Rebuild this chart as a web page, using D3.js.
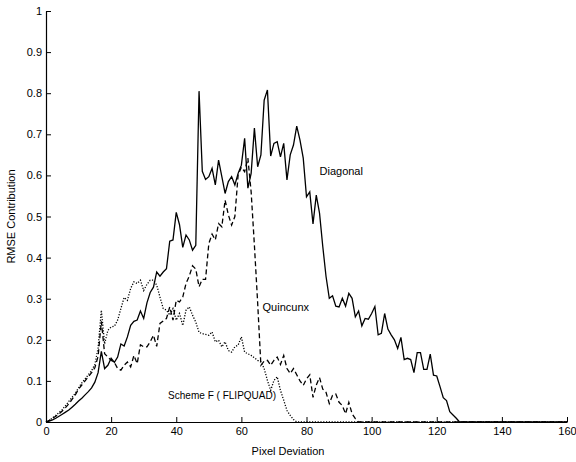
<!DOCTYPE html>
<html>
<head>
<meta charset="utf-8">
<script src="https://cdn.jsdelivr.net/npm/d3@7"></script>
<style>
  body { margin: 0; background: #fff; }
  text { font-family: "Liberation Sans", Arial, sans-serif; }
</style>
</head>
<body>
<div id="vis"></div>
<script>
// Frame
const FRAME_WIDTH = 576;
const FRAME_HEIGHT = 462;
const MARGINS = {left: 46, right: 9, top: 11, bottom: 40};
const VIS_WIDTH = FRAME_WIDTH - MARGINS.left - MARGINS.right;
const VIS_HEIGHT = FRAME_HEIGHT - MARGINS.top - MARGINS.bottom;

// Data: values at pixel deviation 0, 1, 2, ... ; each curve stays at 0 up to X_END
const X_END = 160;
const X_TICKS = [0, 20, 40, 60, 80, 100, 120, 140, 160];
const Y_TICKS = [0, 0.1, 0.2, 0.3, 0.4, 0.5, 0.6, 0.7, 0.8, 0.9, 1];

const DIAGONAL = [0, 0.002, 0.005, 0.009, 0.014, 0.019, 0.024, 0.029, 0.036, 0.043,
  0.051, 0.058, 0.066, 0.074, 0.083, 0.097, 0.12, 0.172, 0.13, 0.138,
  0.155, 0.145, 0.158, 0.19, 0.185, 0.207, 0.235, 0.245, 0.248, 0.27,
  0.252, 0.29, 0.315, 0.328, 0.365, 0.355, 0.365, 0.373, 0.44, 0.443,
  0.51, 0.48, 0.425, 0.455, 0.443, 0.418, 0.43, 0.805, 0.61, 0.59,
  0.597, 0.617, 0.577, 0.637, 0.597, 0.556, 0.585, 0.597, 0.577, 0.605,
  0.625, 0.69, 0.569, 0.605, 0.715, 0.621, 0.65, 0.783, 0.808, 0.647,
  0.678, 0.682, 0.645, 0.678, 0.589, 0.65, 0.674, 0.72, 0.686, 0.642,
  0.548, 0.56, 0.482, 0.552, 0.508, 0.427, 0.354, 0.301, 0.307, 0.282,
  0.28, 0.301, 0.282, 0.313, 0.301, 0.256, 0.27, 0.234, 0.252, 0.25,
  0.264, 0.281, 0.212, 0.216, 0.264, 0.226, 0.212, 0.2, 0.179, 0.206,
  0.152, 0.155, 0.152, 0.12, 0.169, 0.169, 0.128, 0.128, 0.165, 0.114,
  0.112, 0.086, 0.059, 0.052, 0.025, 0.017, 0.009, 0];

const QUINCUNX = [0, 0.004, 0.009, 0.014, 0.02, 0.027, 0.035, 0.044, 0.055, 0.066,
  0.08, 0.09, 0.1, 0.11, 0.12, 0.132, 0.16, 0.245, 0.166, 0.158,
  0.15, 0.145, 0.13, 0.126, 0.138, 0.146, 0.134, 0.162, 0.142, 0.188,
  0.183, 0.183, 0.195, 0.211, 0.184, 0.24, 0.246, 0.252, 0.28, 0.248,
  0.296, 0.292, 0.304, 0.337, 0.355, 0.38, 0.372, 0.329, 0.347, 0.347,
  0.434, 0.457, 0.443, 0.483, 0.475, 0.54, 0.504, 0.479, 0.5, 0.601,
  0.62, 0.609, 0.642, 0.56, 0.43, 0.29, 0.138, 0.148, 0.15, 0.138,
  0.15, 0.158, 0.14, 0.162, 0.13, 0.118, 0.13, 0.115, 0.1, 0.089,
  0.105, 0.115, 0.06, 0.09, 0.108, 0.08, 0.072, 0.045, 0.065, 0.068,
  0.048, 0.04, 0.02, 0.048, 0.02, 0.008, 0];

const SCHEME_F = [0, 0.004, 0.01, 0.016, 0.023, 0.03, 0.04, 0.05, 0.06, 0.07,
  0.083, 0.095, 0.105, 0.115, 0.125, 0.14, 0.18, 0.272, 0.19, 0.223,
  0.231, 0.233, 0.248, 0.276, 0.303, 0.296, 0.325, 0.341, 0.337, 0.345,
  0.32, 0.335, 0.345, 0.345, 0.333, 0.304, 0.276, 0.272, 0.26, 0.276,
  0.248, 0.264, 0.235, 0.272, 0.28, 0.26, 0.243, 0.218, 0.215, 0.213,
  0.211, 0.219, 0.195, 0.199, 0.183, 0.195, 0.174, 0.17, 0.183, 0.187,
  0.207, 0.17, 0.166, 0.162, 0.156, 0.15, 0.146, 0.13, 0.101, 0.077,
  0.101, 0.11, 0.077, 0.053, 0.028, 0.016, 0.006, 0];

// Series with their style and label (label position in data units)
const SERIES = [
  {name: "Diagonal", values: DIAGONAL, dash: null, labelX: 84, labelY: 0.6, labelLen: null},
  {name: "Quincunx", values: QUINCUNX, dash: "5,3", labelX: 66.5, labelY: 0.27, labelLen: null},
  {name: "Scheme F ( FLIPQUAD)", values: SCHEME_F, dash: "1.2,1.6", labelX: 37.5, labelY: 0.055, labelLen: 108}
];

const svg = d3.select("#vis")
  .append("svg")
  .attr("width", FRAME_WIDTH)
  .attr("height", FRAME_HEIGHT);

const g = svg.append("g")
  .attr("transform", "translate(" + MARGINS.left + "," + MARGINS.top + ")");

// Scales
const X_SCALE = d3.scaleLinear().domain([0, 160]).range([0, VIS_WIDTH]);
const Y_SCALE = d3.scaleLinear().domain([0, 1]).range([VIS_HEIGHT, 0]);

// Lines
const line = d3.line()
  .x((d) => X_SCALE(d[0]))
  .y((d) => Y_SCALE(d[1]));

SERIES.forEach((s) => {
  let pts = s.values.map((v, i) => [i, v]);
  pts.push([X_END, 0]);
  g.append("path")
    .datum(pts)
    .attr("fill", "none")
    .attr("stroke", "#000")
    .attr("stroke-width", 1.3)
    .attr("stroke-dasharray", s.dash)
    .attr("d", line);

  let lbl = g.append("text")
    .attr("x", X_SCALE(s.labelX))
    .attr("y", Y_SCALE(s.labelY))
    .attr("font-size", "11px")
    .attr("fill", "#000")
    .text(s.name);
  if (s.labelLen) {
    lbl.attr("textLength", s.labelLen).attr("lengthAdjust", "spacingAndGlyphs");
  }
});

// Axes (ticks point inward)
const xAxis = g.append("g")
  .attr("transform", "translate(0," + VIS_HEIGHT + ")")
  .call(d3.axisBottom(X_SCALE).tickValues(X_TICKS).tickSizeInner(-5).tickSizeOuter(0).tickPadding(5));

const yAxis = g.append("g")
  .call(d3.axisLeft(Y_SCALE).tickValues(Y_TICKS).tickFormat(d3.format("~g"))
    .tickSizeInner(-5).tickSizeOuter(0).tickPadding(4));

[xAxis, yAxis].forEach((a) => {
  a.attr("font-size", "11px").attr("font-family", "Liberation Sans, Arial, sans-serif");
  a.select(".domain").attr("stroke", "#000").attr("stroke-width", 1.2);
  a.selectAll(".tick line").attr("stroke", "#000");
  a.selectAll(".tick text").attr("fill", "#000");
});

// Axis titles
svg.append("text")
  .attr("x", FRAME_WIDTH / 2)
  .attr("y", 455)
  .attr("text-anchor", "middle")
  .attr("font-size", "11px")
  .text("Pixel Deviation");

svg.append("text")
  .attr("transform", "translate(15," + (MARGINS.top + VIS_HEIGHT / 2) + ") rotate(-90)")
  .attr("text-anchor", "middle")
  .attr("font-size", "11px")
  .text("RMSE Contribution");
</script>
</body>
</html>
